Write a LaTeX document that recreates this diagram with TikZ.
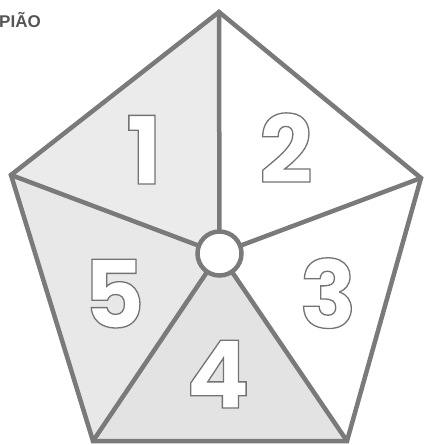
\documentclass[tikz,border=0pt]{standalone}
\usepackage{fontspec}
\setmainfont{Liberation Sans}
\newfontfamily\digitfont{Poppins}
\newfontfamily\titlefont{Liberation Sans}
\definecolor{linegray}{HTML}{7A7A7A}
\definecolor{shadeA}{HTML}{EBEBEB}
\definecolor{shadeB}{HTML}{E3E3E3}
\definecolor{shadeC}{HTML}{E8E8E8}
\definecolor{titlegray}{HTML}{555555}
\newcommand{\outlinedigit}[1]{\special{pdf:literal direct 2 Tr 1.3 w 0.45 0.45 0.45 RG}#1\special{pdf:literal direct 0 Tr}}
\tikzset{
  edge/.style={draw=linegray, line width=4.5pt, line join=miter, line cap=round},
  digit/.style={anchor=base, inner sep=0pt, text=white, font=\digitfont\bfseries\fontsize{94}{94}\selectfont},
}
\begin{document}
\begin{tikzpicture}[x=1pt,y=-1pt]
\useasboundingbox (0,0) rectangle (426,445);
\coordinate (T) at (219,12);
\coordinate (L) at (11,175);
\coordinate (R) at (421,178);
\coordinate (BL) at (93,441);
\coordinate (BR) at (347,441);
\coordinate (C) at (219.5,253.5);
% sectors
\fill[shadeA] (C) -- (T) -- (L) -- cycle;
\fill[white] (C) -- (T) -- (R) -- cycle;
\fill[white] (C) -- (R) -- (BR) -- cycle;
\fill[shadeB] (C) -- (BR) -- (BL) -- cycle;
\fill[shadeC] (C) -- (BL) -- (L) -- cycle;
% spokes
\foreach \v in {T,L,R,BL,BR} \draw[edge] (C) -- (\v);
% outline
\draw[edge] (T) -- (R) -- (BR) -- (BL) -- (L) -- cycle;
% hub
\node[circle, draw=linegray, line width=4.5pt, fill=white, minimum size=44pt, inner sep=0pt] (hub) at (C) {};
% digits
\node[digit] (d1) at (144,184) {\outlinedigit{1}};
\node[digit] (d2) at (286,183) {\outlinedigit{2}};
\node[digit] (d3) at (328,328) {\outlinedigit{3}};
\node[digit] (d4) at (218,408) {\outlinedigit{4}};
\node[digit] (d5) at (114,328) {\outlinedigit{5}};
% title
\node[anchor=base west, inner sep=0pt, text=titlegray, font=\titlefont\bfseries\fontsize{17}{17}\selectfont] (title) at (-1,27) {PIÃO};
\end{tikzpicture}
\end{document}
